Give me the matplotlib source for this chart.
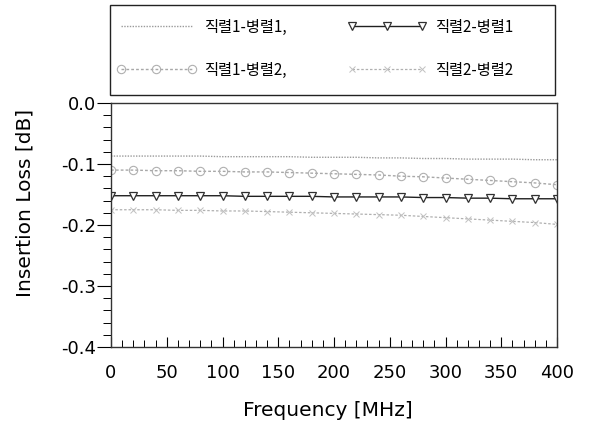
import matplotlib
matplotlib.use("Agg")
import matplotlib.pyplot as plt
from matplotlib.ticker import MultipleLocator
from matplotlib.patches import Rectangle

plt.rcParams['font.family'] = ['DejaVu Sans', 'Noto Sans CJK KR']

freq = [0, 20, 40, 60, 80, 100, 120, 140, 160, 180, 200, 220, 240, 260, 280, 300, 320, 340, 360, 380, 400]
s11 = [-0.087, -0.087, -0.087, -0.087, -0.087, -0.088, -0.088, -0.088, -0.088, -0.089, -0.089, -0.089, -0.090, -0.090, -0.091, -0.091, -0.092, -0.092, -0.092, -0.093, -0.093]
s12 = [-0.110, -0.110, -0.111, -0.111, -0.112, -0.112, -0.113, -0.113, -0.114, -0.115, -0.116, -0.117, -0.118, -0.120, -0.121, -0.123, -0.125, -0.127, -0.129, -0.131, -0.134]
s21 = [-0.152, -0.152, -0.152, -0.152, -0.152, -0.152, -0.153, -0.153, -0.153, -0.153, -0.154, -0.154, -0.154, -0.154, -0.155, -0.155, -0.156, -0.156, -0.157, -0.157, -0.157]
s22 = [-0.175, -0.175, -0.175, -0.176, -0.176, -0.177, -0.177, -0.178, -0.179, -0.180, -0.181, -0.182, -0.183, -0.184, -0.186, -0.188, -0.190, -0.192, -0.194, -0.196, -0.199]

labels = ['직렬1-병렬1,', '직렬1-병렬2,', '직렬2-병렬1', '직렬2-병렬2']
ytick_vals = [-0.4, -0.3, -0.2, -0.1, 0.0]
ytick_labels = ['-0.4', '-0.3', '-0.2', '-0.1', '0.0']

W, H = 589, 428
fig = plt.figure(figsize=(W / 100, H / 100), dpi=100)
ax = fig.add_axes([111 / W, 1 - 347 / H, 446 / W, 244 / H])

l1, = ax.plot(freq, s11, color='#9a9a9a', lw=1.0, ls=(0, (1, 1)))
l2, = ax.plot(freq, s12, color='#a8a8a8', lw=1.0, ls=(0, (2, 1.5)), marker='o',
              mfc='none', mec='#b0b0b0', ms=6, mew=0.8)
l3, = ax.plot(freq, s21, color='#202020', lw=1.0, marker='v', mfc='white',
              mec='#303030', ms=6.2, mew=0.9)
l4, = ax.plot(freq, s22, color='#b0b0b0', lw=0.9, ls=(0, (2, 1.5)), marker='x',
              mec='#c0c0c0', ms=5, mew=0.7)

ax.set_xlim(0, 400)
ax.set_ylim(-0.4, 0.0)
ax.xaxis.set_major_locator(MultipleLocator(50))
ax.xaxis.set_minor_locator(MultipleLocator(10))
ax.yaxis.set_minor_locator(MultipleLocator(0.02))
ax.set_yticks(ytick_vals)
ax.set_yticklabels(ytick_labels)
ax.tick_params(axis='x', which='major', direction='in', length=7, width=0.8,
               labelsize=13, pad=12.5)
ax.tick_params(axis='x', which='minor', direction='in', length=5, width=0.7)
ax.tick_params(axis='y', which='major', direction='out', length=10, width=0.8,
               labelsize=13, pad=1)
ax.tick_params(axis='y', which='minor', direction='out', length=5.5, width=0.7)
for sp in ax.spines.values():
    sp.set_linewidth(1.0)
    sp.set_color('#333333')

ax.set_xlabel('Frequency [MHz]', fontsize=14.5)
ax.set_ylabel('Insertion Loss [dB]', fontsize=14.5)
ax.xaxis.set_label_coords(0.487, -0.222)
ax.yaxis.set_label_coords(-0.172, 0.59)

fig.patches.append(Rectangle((110 / W, 1 - 95 / H), 445 / W, 90 / H,
                             transform=fig.transFigure, fill=False,
                             edgecolor='#222222', lw=1.0))

leg = fig.legend([l1, l2, l3, l4], labels, ncol=2, loc='upper left',
                 bbox_to_anchor=(109 / W, 1 - 11 / H),
                 frameon=False,
                 prop={'family': ['Noto Sans CJK KR', 'DejaVu Sans'], 'size': 11},
                 handlelength=5.2, numpoints=3,
                 borderpad=0, labelspacing=1.7, columnspacing=4.0,
                 handletextpad=0.5)

fig.savefig('out.png', dpi=100)
